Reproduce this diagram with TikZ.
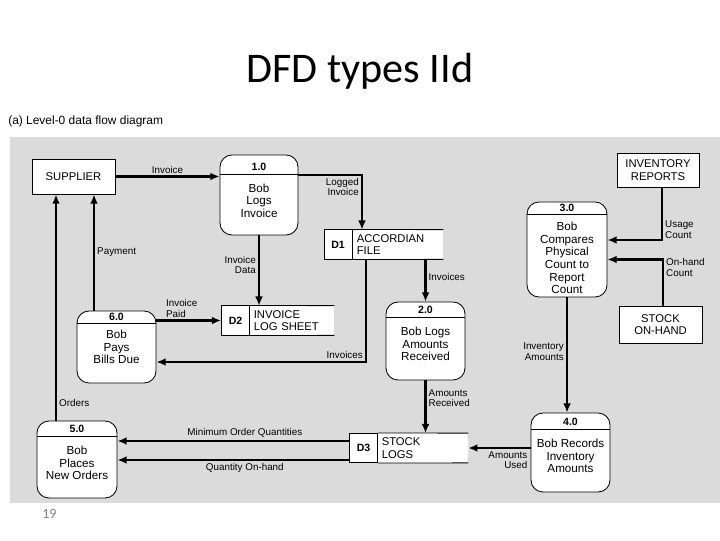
\documentclass[tikz,border=0pt]{standalone}
\usepackage{fontspec}
\setmainfont{Liberation Sans}
\newfontfamily\slidefont{Carlito}
\usetikzlibrary{positioning,arrows.meta}
\tikzset{
	proc/.style = {draw, fill=white, rounded corners=0.3cm, line width=0.6pt},
	ent/.style = {draw, fill=white, line width=0.6pt, align=center, inner sep=0pt, font=\fontsize{8}{9}\selectfont},
	pnum/.style = {font=\bfseries\fontsize{7.5}{8}\selectfont, inner sep=2pt, text height=5.5pt, text depth=0pt},
	ptext/.style = {align=center, inner sep=0pt, font=\fontsize{8.3}{9}\selectfont},
	sid/.style = {draw, fill=white, line width=0.6pt, font=\bfseries\fontsize{7.5}{8}\selectfont, minimum width=0.7cm, minimum height=0.73cm, inner sep=0pt},
	stext/.style = {fill=white, align=left, text width=1.9cm, inner xsep=3pt, inner ysep=0pt, minimum height=0.73cm, font=\fontsize{8}{9}\selectfont},
	flow/.style = {line width=1.6pt, -{Latex[length=6.5pt,width=5.5pt]}},
	lbl/.style = {font=\fontsize{7}{7.5}\selectfont, inner sep=1.5pt},
}
\begin{document}
\begin{tikzpicture}[x=0.025cm, y=-0.025cm]
	\useasboundingbox (0,0) rectangle (720,540);
	\node[font=\slidefont\fontsize{30}{36}\selectfont, anchor=base] (title) at (360,82) {DFD types IId};
	\node[font=\fontsize{8.5}{10}\selectfont, anchor=base west, inner sep=0pt] (caption) at (8,124) {(a) Level-0 data flow diagram};
	\node[font=\slidefont\fontsize{10}{12}\selectfont, text=gray, anchor=base west, inner sep=0pt] (pageno) at (42,518) {19};
	\fill[black!14] (10,137) rectangle (720,503);

	% external entities
	\node[ent, minimum width=2.075cm, minimum height=0.875cm] (sup) at (73.5,176.5) {SUPPLIER};
	\node[ent, minimum width=2.05cm, minimum height=0.85cm] (inv) at (658,170) {INVENTORY\\REPORTS};
	\node[ent, minimum width=2.075cm, minimum height=0.925cm] (stk) at (660.5,324.5) {STOCK\\ON-HAND};

	% processes
	\node[proc, minimum width=1.95cm, minimum height=2cm] (p1) at (259,195) {};
	\node[pnum] (p1num) at (259,167) {1.0};
	\node[ptext] (p1txt) at (259,200.5) {Bob\\Logs\\Invoice};
	\node[proc, minimum width=1.975cm, minimum height=1.95cm] (p2) at (425.5,341) {};
	\node[pnum] (p2num) at (425.5,310) {2.0};
	\node[ptext] (p2txt) at (425.5,344) {Bob Logs\\Amounts\\Received};
	\node[proc, minimum width=2cm, minimum height=2.375cm] (p3) at (567,249.5) {};
	\node[pnum] (p3num) at (567,207.5) {3.0};
	\node[ptext] (p3txt) at (567,258) {Bob\\Compares\\Physical\\Count to\\Report\\Count};
	\node[proc, minimum width=1.975cm, minimum height=1.975cm] (p4) at (570.5,452.5) {};
	\node[pnum] (p4num) at (570.5,422) {4.0};
	\node[ptext] (p4txt) at (570.5,456) {Bob Records\\Inventory\\Amounts};
	\node[proc, minimum width=2cm, minimum height=1.925cm] (p5) at (77,459.5) {};
	\node[pnum] (p5num) at (77,429) {5.0};
	\node[ptext] (p5txt) at (77,463) {Bob\\Places\\New Orders};
	\node[proc, minimum width=1.975cm, minimum height=1.8cm] (p6) at (116.5,347) {};
	\node[pnum] (p6num) at (116.5,316.5) {6.0};
	\node[ptext] (p6txt) at (116.5,347) {Bob\\Pays\\Bills Due};
	\foreach \p in {p1,p2,p3,p4,p5,p6}
		\draw[line width=0.6pt] (\p.west |- \p num.south) -- (\p.east |- \p num.south);

	% data stores
	\node[stext, anchor=west, text width=2.05cm] (d1txt) at (352.3,244.5) {ACCORDIAN\\FILE};
	\node[sid] (d1) at (338,244.5) {D1};
	\node[stext, anchor=west] (d2txt) at (249.3,320.5) {INVOICE\\LOG SHEET};
	\node[sid] (d2) at (235.5,320.5) {D2};
	\node[stext, anchor=west, text width=2.05cm] (d3txt) at (377.3,448) {STOCK\\LOGS};
	\node[sid] (d3) at (363.5,448) {D3};
	\foreach \d in {d1,d2,d3}
		\draw[line width=0.6pt] (\d.north east) -- (\d txt.north east) (\d.south east) -- (\d txt.south east);

	% bends and side lines
	\coordinate (c1) at (362,175);
	\coordinate (c2) at (366,362);
	\coordinate (c3) at (94,0);
	\coordinate (c4) at (56,0);
	\coordinate (c5) at (0,441);
	\coordinate (c6) at (0,460);
	\coordinate (c7) at (662,240);
	\coordinate (c8) at (663,259.5);

	% data flows
	\draw[flow] (sup.east) -- node[lbl, above] {Invoice} (sup.east -| p1.west);
	\draw[flow] (p1.east |- c1) -- (c1) -- node[lbl, left, align=right, pos=.22] {Logged\\Invoice} (c1 |- d1txt.north);
	\draw[flow] (p1.south) -- node[lbl, left, align=right, pos=.42] {Invoice\\Data} (p1.south |- d2txt.north);
	\draw[flow] (p2.north |- d1txt.south) -- node[lbl, right, pos=.42] {Invoices} (p2.north);
	\draw[flow] (c2 |- d1txt.south) -- (c2) -- node[lbl, above left, pos=0] {Invoices} (c2 -| p6.east);
	\draw[flow] (p6.east |- d2.west) -- node[lbl, above right, align=left, pos=.1] {Invoice\\Paid} (d2.west);
	\draw[flow] (c3 |- p6.north) -- node[lbl, right, pos=.5] {Payment} (c3 |- sup.south);
	\draw[flow] (c4 |- p5.north) -- node[lbl, right, pos=.08] {Orders} (c4 |- sup.south);
	\draw[flow] (d3.west |- c5) -- node[lbl, above, pos=.45] {Minimum Order Quantities} (p5.east |- c5);
	\draw[flow] (d3.west |- c6) -- node[lbl, below, pos=.45] {Quantity On-hand} (p5.east |- c6);
	\draw[flow] (p2.south) -- node[lbl, right, align=left, pos=.34] {Amounts\\Received} (p2.south |- d3txt.north);
	\draw[flow] (p4.west |- d3txt.east) -- node[lbl, below left, align=right, pos=0] {Amounts\\Used} (d3txt.east);
	\draw[flow] (p3.south) -- node[lbl, left, align=right, pos=.47] {Inventory\\Amounts} (p3.south |- p4.north);
	\draw[flow] (c7 |- inv.south) -- node[lbl, right, align=left, pos=.8] {Usage\\Count} (c7) -- (c7 -| p3.east);
	\draw[flow] (c8 |- stk.north) -- node[lbl, right, align=left, pos=.83] {On-hand\\Count} (c8) -- (c8 -| p3.east);
\end{tikzpicture}
\end{document}
